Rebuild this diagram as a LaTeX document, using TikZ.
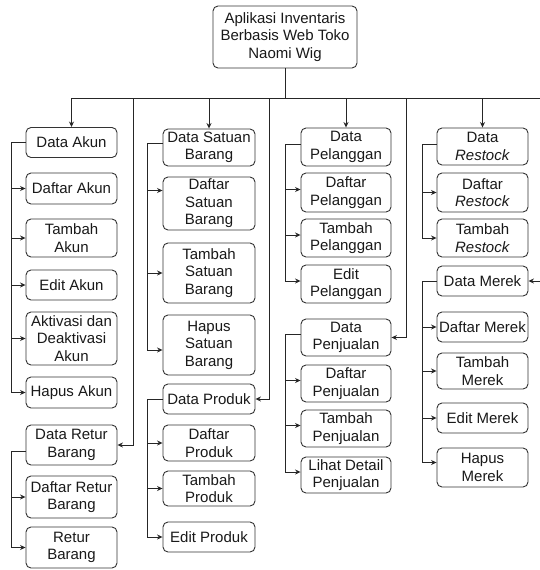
\documentclass[tikz,border=0pt]{standalone}
\usepackage{fontspec}
\setmainfont{Liberation Sans}
\usetikzlibrary{arrows.meta}
\begin{document}
\begin{tikzpicture}[x=1pt,y=-1pt,
  box/.style={draw=black!80, line width=0.9pt, rounded corners=5pt, align=center,
    inner sep=0pt, font=\fontsize{15}{17.5}\selectfont, text=black!90},
  colA/.style={box, minimum width=91pt},
  colB/.style={box, minimum width=92pt},
  colC/.style={box, minimum width=90pt},
  colD/.style={box, minimum width=91pt},
  link/.style={draw=black!85, line width=0.9pt},
  arr/.style={link, -{Stealth[length=5.5pt,width=5pt]}}]
\clip (0,0) rectangle (540,570);
\fill[white] (0,0) rectangle (540,570);

% root
\node[box, minimum width=144pt, minimum height=62pt] (root) at (285,37)
  {Aplikasi Inventaris\\Berbasis Web Toko\\Naomi Wig};

% column A: akun / retur
\node[colA, minimum height=30pt] (akun)        at (71.5,142.5) {Data Akun};
\node[colA, minimum height=31pt] (daftarakun)  at (71.5,188.5) {Daftar Akun};
\node[colA, minimum height=38pt] (tambahakun)  at (71.5,238)   {Tambah\\Akun};
\node[colA, minimum height=30pt] (editakun)    at (71.5,285)   {Edit Akun};
\node[colA, minimum height=53pt] (aktivasi)    at (71.5,338.5) {Aktivasi dan\\Deaktivasi\\Akun};
\node[colA, minimum height=31pt] (hapusakun)   at (71.5,392.5) {Hapus Akun};
\node[colA, minimum height=40pt] (dataretur)   at (71.5,445)   {Data Retur\\Barang};
\node[colA, minimum height=42pt] (daftarretur) at (71.5,497)   {Daftar Retur\\Barang};
\node[colA, minimum height=41pt] (returbarang) at (71.5,547.5) {Retur\\Barang};

% column B: satuan / produk
\node[colB, minimum height=37pt] (satuan)       at (209,147.5) {Data Satuan\\Barang};
\node[colB, minimum height=53pt] (daftarsatuan) at (209,203.5) {Daftar\\Satuan\\Barang};
\node[colB, minimum height=60pt] (tambahsatuan) at (209,273)   {Tambah\\Satuan\\Barang};
\node[colB, minimum height=60pt] (hapussatuan)  at (209,345)   {Hapus\\Satuan\\Barang};
\node[colB, minimum height=30pt] (produk)       at (209,399)   {Data Produk};
\node[colB, minimum height=36pt] (daftarproduk) at (209,443)   {Daftar\\Produk};
\node[colB, minimum height=35pt] (tambahproduk) at (209,488.5) {Tambah\\Produk};
\node[colB, minimum height=30pt] (editproduk)   at (209,537)   {Edit Produk};

% column C: pelanggan / penjualan
\node[colC, minimum height=38pt] (pelanggan)  at (346,147)   {Data\\Pelanggan};
\node[colC, minimum height=39pt] (daftarpel)  at (346,192.5) {Daftar\\Pelanggan};
\node[colC, minimum height=38pt] (tambahpel)  at (346,238)   {Tambah\\Pelanggan};
\node[colC, minimum height=38pt] (editpel)    at (346,284)   {Edit\\Pelanggan};
\node[colC, minimum height=37pt] (penjualan)  at (346,337.5) {Data\\Penjualan};
\node[colC, minimum height=37pt] (daftarpenj) at (346,383.5) {Daftar\\Penjualan};
\node[colC, minimum height=37pt] (tambahpenj) at (346,428.5) {Tambah\\Penjualan};
\node[colC, minimum height=36pt] (lihat)      at (346,475)   {Lihat Detail\\Penjualan};

% column D: restock / merek
\node[colD, minimum height=37pt] (restock)       at (482.5,146.5) {Data\\\textit{Restock}};
\node[colD, minimum height=39pt] (daftarrestock) at (482.5,192.5) {Daftar\\\textit{Restock}};
\node[colD, minimum height=38pt] (tambahrestock) at (482.5,238)   {Tambah\\\textit{Restock}};
\node[colD, minimum height=30pt] (merek)         at (482.5,281)   {Data Merek};
\node[colD, minimum height=30pt] (daftarmerek)   at (482.5,327)   {Daftar Merek};
\node[colD, minimum height=36pt] (tambahmerek)   at (482.5,371)   {Tambah\\Merek};
\node[colD, minimum height=30pt] (editmerek)     at (482.5,418)   {Edit Merek};
\node[colD, minimum height=39pt] (hapusmerek)    at (482.5,467.5) {Hapus\\Merek};

% main bus
\coordinate (busL)  at (71.5,98);
\coordinate (busR)  at (541,98);
\coordinate (dropA) at (133,98);
\coordinate (dropB) at (269,98);
\coordinate (dropC) at (406,98);
\draw[link] (root.south) -- (root.south |- busL);
\draw[link] (busL) -- (busR);
\draw[arr] (busL) -- (akun.north);
\draw[arr] (satuan.north |- busL) -- (satuan.north);
\draw[arr] (pelanggan.north |- busL) -- (pelanggan.north);
\draw[arr] (restock.north |- busL) -- (restock.north);
\draw[arr] (dropA) |- (dataretur.east);
\draw[arr] (dropB) |- (produk.east);
\draw[arr] (dropC) |- (penjualan.east);
\draw[arr] (busR) |- (merek.east);

% trunk x positions
\coordinate (tA) at (11,0);
\coordinate (tB) at (147,0);
\coordinate (tC) at (285,0);
\coordinate (tD) at (422,0);

% akun
\foreach \c in {daftarakun,tambahakun,editakun,aktivasi,hapusakun}
  \draw[arr] (akun.west) -- (akun.west -| tA) |- (\c.west);
% retur
\foreach \c in {daftarretur,returbarang}
  \draw[arr] ([yshift=-6pt]dataretur.west) -- ([yshift=-6pt]dataretur.west -| tA) |- (\c.west);
% satuan
\draw[arr] ([yshift=4pt]satuan.west) -- ([yshift=4pt]satuan.west -| tB) |- ([yshift=13pt]daftarsatuan.west);
\draw[arr] ([yshift=4pt]satuan.west) -- ([yshift=4pt]satuan.west -| tB) |- (tambahsatuan.west);
\draw[arr] ([yshift=4pt]satuan.west) -- ([yshift=4pt]satuan.west -| tB) |- ([yshift=-5pt]hapussatuan.west);
% produk
\foreach \c in {daftarproduk,tambahproduk,editproduk}
  \draw[arr] (produk.west) -- (produk.west -| tB) |- (\c.west);
% pelanggan
\foreach \c in {daftarpel,tambahpel,editpel}
  \draw[arr] ([yshift=3pt]pelanggan.west) -- ([yshift=3pt]pelanggan.west -| tC) |- ([yshift=3pt]\c.west);
% penjualan
\foreach \c in {daftarpenj,tambahpenj,lihat}
  \draw[arr] ([yshift=3.5pt]penjualan.west) -- ([yshift=3.5pt]penjualan.west -| tC) |- ([yshift=3pt]\c.west);
% restock
\foreach \c in {daftarrestock,tambahrestock}
  \draw[arr] ([yshift=2.5pt]restock.west) -- ([yshift=2.5pt]restock.west -| tD) |- (\c.west);
% merek
\foreach \c in {daftarmerek,tambahmerek,editmerek}
  \draw[arr] (merek.west) -- (merek.west -| tD) |- (\c.west);
\draw[arr] (merek.west) -- (merek.west -| tD) |- ([yshift=5pt]hapusmerek.west);
\end{tikzpicture}
\end{document}
